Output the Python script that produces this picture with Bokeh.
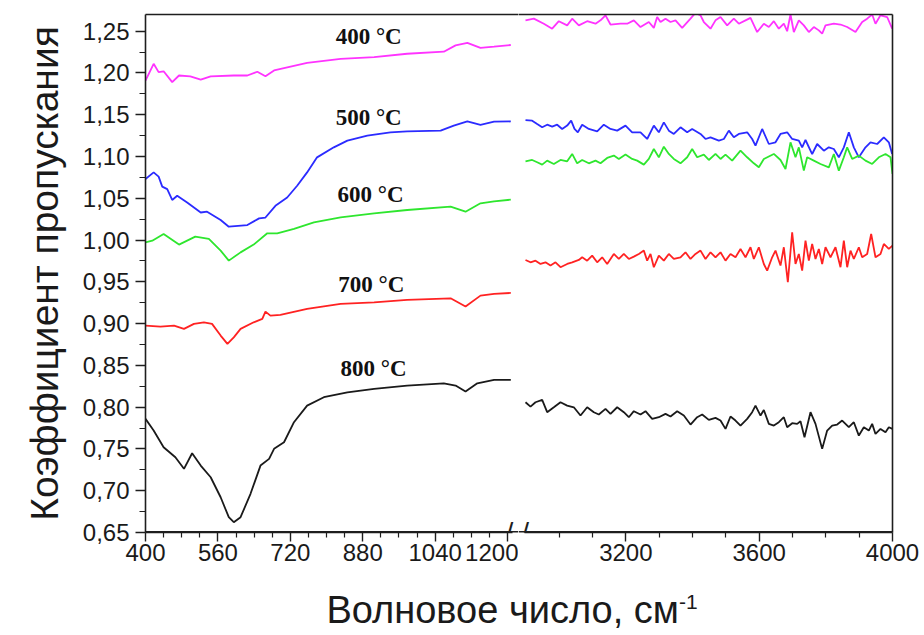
from bokeh.plotting import figure
from bokeh.layouts import row, column
from bokeh.models import Range1d, LinearAxis, FixedTicker, Label, Div, Span
from bokeh.embed import file_html
from bokeh.resources import INLINE

# ---------------- data ----------------
series_names = ["400 °C", "500 °C", "600 °C", "700 °C", "800 °C"]
series_colors = ["#ff33ff", "#2b2bff", "#2ee62e", "#ff2222", "#1a1a1a"]

# low wavenumber part (400-1200 cm-1)
pink_lx = [400, 418, 429, 440, 459, 474, 499, 522, 544, 595, 625, 647, 665, 684, 757, 831, 905, 978, 1059, 1085, 1111, 1140, 1170, 1207]
pink_ly = [1.191, 1.211, 1.201, 1.202, 1.189, 1.197, 1.196, 1.192, 1.196, 1.197, 1.197, 1.2015, 1.196, 1.203, 1.212, 1.217, 1.219, 1.223, 1.2255, 1.233, 1.236, 1.230, 1.2315, 1.2335]

blue_lx = [400, 418, 429, 437, 448, 459, 470, 492, 522, 536, 566, 584, 625, 651, 665, 687, 713, 735, 757, 779, 816, 846, 890, 941, 978, 1052, 1081, 1111, 1140, 1170, 1207]
blue_ly = [1.073, 1.081, 1.076, 1.064, 1.061, 1.048, 1.053, 1.045, 1.033, 1.034, 1.024, 1.016, 1.018, 1.026, 1.027, 1.041, 1.051, 1.065, 1.081, 1.099, 1.111, 1.119, 1.125, 1.129, 1.130, 1.131, 1.137, 1.142, 1.138, 1.1417, 1.142]

green_lx = [400, 415, 440, 474, 510, 540, 566, 584, 610, 639, 669, 691, 728, 772, 831, 905, 978, 1074, 1107, 1140, 1170, 1207]
green_ly = [0.9973, 0.9993, 1.0074, 0.9946, 1.0041, 1.0014, 0.9874, 0.9754, 0.9853, 0.9946, 1.0081, 1.0081, 1.0133, 1.0212, 1.0273, 1.032, 1.036, 1.040, 1.034, 1.044, 1.0464, 1.0484]

red_lx = [400, 433, 463, 485, 507, 529, 547, 566, 581, 595, 610, 639, 658, 665, 676, 698, 757, 831, 905, 978, 1074, 1107, 1140, 1170, 1207]
red_ly = [0.8976, 0.8964, 0.8976, 0.8937, 0.8997, 0.9016, 0.8997, 0.8857, 0.8757, 0.8836, 0.8937, 0.9016, 0.9057, 0.9144, 0.9096, 0.9104, 0.9176, 0.9236, 0.9255, 0.9284, 0.9303, 0.9204, 0.9335, 0.9356, 0.9367]

black_lx = [400, 418, 440, 466, 485, 503, 522, 544, 566, 584, 595, 610, 632, 654, 673, 684, 706, 728, 757, 794, 846, 905, 978, 1059, 1085, 1107, 1133, 1170, 1207]
black_ly = [0.786, 0.772, 0.752, 0.740, 0.7262, 0.7449, 0.7301, 0.7161, 0.6922, 0.6683, 0.6623, 0.6683, 0.6963, 0.7301, 0.7381, 0.7501, 0.7580, 0.7820, 0.8019, 0.8119, 0.8178, 0.8219, 0.8259, 0.8286, 0.8259, 0.8187, 0.8286, 0.8327, 0.8327]

# high wavenumber part (2900-4000 cm-1)
pink_rx = [2899, 2924, 2954, 2979, 2999, 3024, 3039, 3059, 3084, 3109, 3124, 3139, 3154, 3184, 3204, 3224, 3244, 3269, 3284, 3294, 3304, 3319, 3334, 3349, 3369, 3394, 3409, 3424, 3434, 3454, 3469, 3484, 3504, 3524, 3539, 3559, 3574, 3594, 3614, 3629, 3644, 3659, 3674, 3684, 3694, 3704, 3719, 3734, 3749, 3764, 3779, 3789, 3799, 3824, 3844, 3864, 3889, 3909, 3924, 3939, 3949, 3964, 3984, 3999]
pink_ry = [1.263, 1.265, 1.259, 1.253, 1.262, 1.257, 1.265, 1.257, 1.262, 1.259, 1.263, 1.269, 1.258, 1.259, 1.259, 1.263, 1.255, 1.261, 1.254, 1.267, 1.261, 1.265, 1.261, 1.263, 1.254, 1.265, 1.272, 1.269, 1.261, 1.253, 1.263, 1.267, 1.257, 1.265, 1.259, 1.263, 1.266, 1.249, 1.259, 1.255, 1.262, 1.253, 1.259, 1.250, 1.270, 1.249, 1.263, 1.257, 1.249, 1.255, 1.251, 1.247, 1.257, 1.259, 1.258, 1.255, 1.249, 1.261, 1.265, 1.270, 1.259, 1.269, 1.267, 1.253]

blue_rx = [2899, 2919, 2934, 2949, 2964, 2979, 2994, 3009, 3024, 3036, 3046, 3056, 3069, 3089, 3114, 3134, 3154, 3174, 3199, 3219, 3244, 3264, 3284, 3299, 3314, 3329, 3344, 3364, 3384, 3399, 3424, 3439, 3454, 3479, 3494, 3509, 3524, 3539, 3564, 3579, 3589, 3609, 3629, 3649, 3664, 3684, 3699, 3719, 3729, 3739, 3759, 3774, 3794, 3809, 3824, 3839, 3854, 3869, 3884, 3899, 3919, 3934, 3954, 3974, 3989, 3999]
blue_ry = [1.1437, 1.1429, 1.1389, 1.1350, 1.1381, 1.1358, 1.1381, 1.1330, 1.1370, 1.1429, 1.1330, 1.1290, 1.1381, 1.1330, 1.1302, 1.1381, 1.1330, 1.1310, 1.1370, 1.1290, 1.1290, 1.1210, 1.1370, 1.1290, 1.1409, 1.1310, 1.1270, 1.1350, 1.1290, 1.1330, 1.1270, 1.1210, 1.1230, 1.1190, 1.1210, 1.1310, 1.1230, 1.1270, 1.1290, 1.1210, 1.1130, 1.1330, 1.1150, 1.1170, 1.1270, 1.1290, 1.1210, 1.1190, 1.1110, 1.1198, 1.1030, 1.1150, 1.1070, 1.1110, 1.1090, 1.0991, 1.1110, 1.1290, 1.1110, 1.0991, 1.1110, 1.1170, 1.1150, 1.1230, 1.1170, 1.1030]

green_rx = [2899, 2919, 2934, 2949, 2964, 2984, 3004, 3024, 3039, 3054, 3069, 3089, 3109, 3124, 3144, 3164, 3179, 3199, 3219, 3234, 3254, 3269, 3284, 3299, 3314, 3329, 3344, 3364, 3384, 3399, 3414, 3434, 3449, 3469, 3484, 3499, 3519, 3544, 3564, 3584, 3599, 3614, 3644, 3664, 3679, 3694, 3709, 3719, 3734, 3744, 3764, 3784, 3809, 3824, 3839, 3854, 3864, 3879, 3899, 3919, 3939, 3959, 3979, 3994, 4000]
green_ry = [1.0943, 1.0959, 1.0931, 1.0903, 1.0951, 1.0911, 1.0959, 1.0943, 1.1031, 1.0919, 1.0959, 1.0919, 1.0951, 1.0919, 1.0983, 1.1011, 1.0971, 1.1023, 1.0971, 1.0951, 1.0903, 1.0971, 1.1090, 1.0991, 1.1118, 1.1031, 1.0971, 1.0919, 1.0991, 1.1090, 1.0991, 1.1023, 1.0959, 1.1031, 1.0971, 1.1023, 1.0951, 1.1070, 1.0991, 1.0919, 1.0871, 1.0971, 1.1031, 1.0959, 1.0851, 1.1170, 1.0991, 1.1110, 1.0831, 1.0991, 1.0951, 1.0911, 1.0871, 1.1031, 1.0831, 1.0991, 1.1110, 1.0971, 1.1011, 1.0951, 1.0911, 1.0991, 1.1031, 1.0991, 1.0791]

red_rx = [2899, 2914, 2929, 2944, 2959, 2974, 2989, 3004, 3024, 3039, 3059, 3069, 3084, 3099, 3114, 3129, 3144, 3164, 3179, 3194, 3209, 3224, 3239, 3254, 3264, 3274, 3284, 3299, 3314, 3329, 3344, 3364, 3379, 3394, 3409, 3424, 3439, 3454, 3469, 3484, 3499, 3514, 3529, 3544, 3559, 3574, 3584, 3599, 3614, 3624, 3639, 3649, 3664, 3674, 3686, 3699, 3709, 3719, 3729, 3739, 3749, 3759, 3769, 3779, 3789, 3799, 3814, 3829, 3844, 3854, 3864, 3874, 3884, 3899, 3909, 3924, 3936, 3949, 3964, 3974, 3989, 4000]
red_ry = [0.9762, 0.9734, 0.9754, 0.9714, 0.9734, 0.9695, 0.9734, 0.9675, 0.9714, 0.9734, 0.9762, 0.9794, 0.9754, 0.9814, 0.9734, 0.9794, 0.9714, 0.9834, 0.9774, 0.9834, 0.9774, 0.9802, 0.9834, 0.9874, 0.9754, 0.9834, 0.9675, 0.9814, 0.9754, 0.9834, 0.9774, 0.9794, 0.9854, 0.9774, 0.9834, 0.9874, 0.9774, 0.9854, 0.9794, 0.9854, 0.9754, 0.9834, 0.9794, 0.9894, 0.9794, 0.9914, 0.9774, 0.9914, 0.9714, 0.9635, 0.9794, 0.9874, 0.9695, 0.9914, 0.9495, 1.0093, 0.9714, 0.9834, 0.9635, 0.9994, 0.9754, 0.9954, 0.9774, 0.9894, 0.9714, 0.9914, 0.9794, 0.9914, 0.9675, 0.9994, 0.9675, 0.9874, 0.9774, 0.9914, 0.9794, 0.9834, 1.0073, 0.9794, 0.9834, 0.9954, 0.9894, 0.9934]

black_rx = [2899, 2914, 2929, 2949, 2964, 2984, 3004, 3024, 3044, 3064, 3084, 3104, 3119, 3139, 3154, 3174, 3194, 3209, 3224, 3244, 3259, 3279, 3299, 3319, 3334, 3354, 3374, 3394, 3414, 3429, 3449, 3469, 3484, 3499, 3514, 3529, 3544, 3564, 3579, 3589, 3604, 3614, 3629, 3644, 3659, 3674, 3684, 3699, 3714, 3724, 3736, 3754, 3769, 3789, 3804, 3819, 3834, 3849, 3869, 3884, 3899, 3914, 3929, 3939, 3949, 3964, 3979, 3989, 4000]
black_ry = [0.8059, 0.8007, 0.8059, 0.8087, 0.7940, 0.7999, 0.8059, 0.8019, 0.7999, 0.7900, 0.7999, 0.7940, 0.7912, 0.7979, 0.7920, 0.7999, 0.7940, 0.7880, 0.7952, 0.7912, 0.7952, 0.7860, 0.7880, 0.7920, 0.7888, 0.7952, 0.7900, 0.7792, 0.7880, 0.7912, 0.7848, 0.7872, 0.7840, 0.7740, 0.7888, 0.7840, 0.7780, 0.7860, 0.7940, 0.8019, 0.7900, 0.7967, 0.7800, 0.7780, 0.7820, 0.7880, 0.7760, 0.7808, 0.7800, 0.7832, 0.7640, 0.7940, 0.7800, 0.7501, 0.7720, 0.7780, 0.7792, 0.7840, 0.7760, 0.7820, 0.7660, 0.7760, 0.7720, 0.7800, 0.7680, 0.7740, 0.7700, 0.7760, 0.7740]

# series label anchors (wavenumber, value)
label_x = [893, 893, 897, 899, 904]
label_y = [1.2434, 1.1465, 1.0544, 0.9467, 0.8462]

# ticks
y_ticks = [0.65, 0.70, 0.75, 0.80, 0.85, 0.90, 0.95, 1.00, 1.05, 1.10, 1.15, 1.20, 1.25]
y_tick_labels = ["0,65", "0,70", "0,75", "0,80", "0,85", "0,90", "0,95", "1,00", "1,05", "1,10", "1,15", "1,20", "1,25"]
y_minor = [0.675, 0.725, 0.775, 0.825, 0.875, 0.925, 0.975, 1.025, 1.075, 1.125, 1.175, 1.225]
xl_ticks = [400, 560, 720, 880, 1040, 1200]
xl_minor = [440, 480, 520, 600, 640, 680, 760, 800, 840, 920, 960, 1000, 1080, 1120, 1160]
xr_ticks = [3200, 3600, 4000]
xr_minor = [3000, 3100, 3300, 3400, 3500, 3700, 3800, 3900]

y_title = "Коэффициент пропускания"
x_title = "Волновое число, см"
x_title_sup = "-1"

left_series = [(pink_lx, pink_ly), (blue_lx, blue_ly), (green_lx, green_ly), (red_lx, red_ly), (black_lx, black_ly)]
right_series = [(pink_rx, pink_ry), (blue_rx, blue_ry), (green_rx, green_ry), (red_rx, red_ry), (black_rx, black_ry)]

# ---------------- figures ----------------
SANS = "Liberation Sans"
AX = "#1e1e1e"
TXT = "#1a1a1a"
FIG_H = 580
Y0, Y1 = 0.65, 1.27
y_range = Range1d(Y0, Y1)

def make_axis(ticks, minor, tick_out, minor_out, standoff, **kw):
    return LinearAxis(ticker=FixedTicker(ticks=ticks, minor_ticks=minor),
                      axis_line_color=AX, axis_line_width=1.6,
                      major_tick_line_color=AX, minor_tick_line_color=AX,
                      major_tick_line_width=1.4, minor_tick_line_width=1.2,
                      major_tick_in=0, minor_tick_in=0,
                      major_tick_out=tick_out, minor_tick_out=minor_out,
                      major_label_standoff=standoff,
                      major_label_text_font=SANS, major_label_text_font_size="24px",
                      major_label_text_color=TXT, **kw)

def line_axis():
    return LinearAxis(ticker=FixedTicker(ticks=[]), axis_line_color=AX, axis_line_width=1.6,
                      major_label_text_font_size="0px", major_tick_out=0, minor_tick_out=0)

common = dict(height=FIG_H, y_range=y_range, output_backend="svg", toolbar_location=None,
              x_axis_location=None, y_axis_location=None, min_border_top=14, min_border_bottom=48)
left = figure(width=518, x_range=Range1d(400, 1224), min_border_left=145, min_border_right=0, **common)
right = figure(width=406, x_range=Range1d(2878, 4000), min_border_left=0, min_border_right=32, **common)

xa = make_axis(xl_ticks, xl_minor, 9, 5, 2, bounds=(400, 1210))
left.add_layout(xa, "below")

xb = make_axis(xr_ticks, xr_minor, 9, 5, 2, bounds=(2895, 4000))
right.add_layout(xb, "below")

ya = make_axis(y_ticks, y_minor, 10, 6, 6)
ya.major_label_overrides = {t: s for t, s in zip(y_ticks, y_tick_labels)}
ya.axis_label = y_title
ya.axis_label_text_font = SANS
ya.axis_label_text_font_size = "39px"
ya.axis_label_text_font_style = "normal"
ya.axis_label_text_color = TXT
ya.axis_label_standoff = 14
left.add_layout(ya, "left")

for p in (left, right):
    p.grid.visible = False
    p.outline_line_color = None
    p.background_fill_color = "white"
    p.border_fill_color = "white"
    p.add_layout(line_axis(), "above")
    # base line of the frame (bottom edge)
    p.add_layout(Span(location=Y0, dimension="width", line_color=AX, line_width=3.2))
right.add_layout(line_axis(), "right")

for (xs, ys), c in zip(left_series, series_colors):
    left.line(xs, ys, line_color=c, line_width=1.8)
for (xs, ys), c in zip(right_series, series_colors):
    right.line(xs, ys, line_color=c, line_width=1.8)

for name, lx, ly in zip(series_names, label_x, label_y):
    left.add_layout(Label(x=lx, y=ly, text=name, text_font="Liberation Serif", text_font_style="bold",
                          text_font_size="23px", text_align="center", text_baseline="middle",
                          text_color="#111111"))

# axis break marks
left.add_layout(Label(x=1204, y=Y0, text="/", text_font=SANS, text_font_size="28px",
                      text_align="center", text_baseline="middle", text_color=AX))
right.add_layout(Label(x=2898, y=Y0, text="/", text_font=SANS, text_font_size="28px",
                       text_align="center", text_baseline="middle", text_color=AX))

xlabel = Div(text=(f'<div style="width:748px;margin-left:138px;text-align:center;'
                   f'font-family:\'Liberation Sans\';font-size:38px;color:#1a1a1a;padding-top:3px;">'
                   f'{x_title}<sup style="font-size:21px;">{x_title_sup}</sup></div>'),
             width=924, height=635 - FIG_H, margin=(0, 0, 0, 0))

layout = column(row(left, right, spacing=0), xlabel, spacing=0)

open("out.html", "w").write(file_html(layout, INLINE))
